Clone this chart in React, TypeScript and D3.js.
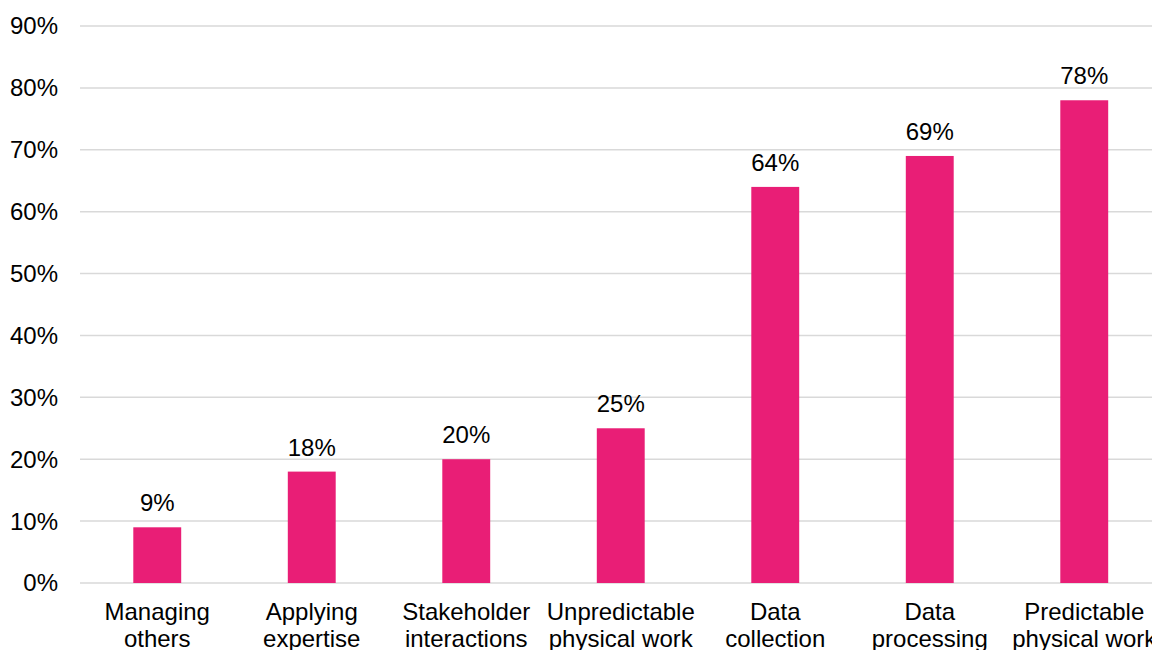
import React from "react";
import * as d3 from "d3";

const categories: string[][] = [
  ["Managing", "others"],
  ["Applying", "expertise"],
  ["Stakeholder", "interactions"],
  ["Unpredictable", "physical work"],
  ["Data", "collection"],
  ["Data", "processing"],
  ["Predictable", "physical work"],
];
const values: number[] = [9, 18, 20, 25, 64, 69, 78];
const yTicks: number[] = [0, 10, 20, 30, 40, 50, 60, 70, 80, 90];

const W = 1152;
const H = 650;
const left = 80;
const right = 1161.5;
const top = 26;
const bottom = 583;
const FONT = "'Liberation Sans', Arial, sans-serif";
const FS = 24;

export default function App() {
  const keys = categories.map((c) => c.join(" "));
  const x = d3.scaleBand<string>().domain(keys).range([left, right]).paddingInner(0.69).paddingOuter(0.345);
  const y = d3.scaleLinear().domain([0, 90]).range([bottom, top]);
  const bw = x.bandwidth();

  return (
    <svg
      width={W}
      height={H}
      style={{ position: "absolute", left: 0, top: 0, background: "#fff" }}
      fontFamily={FONT}
    >
      {yTicks.map((t) => (
        <g key={t}>
          <line x1={left} x2={right} y1={y(t)} y2={y(t)} stroke="#d9d9d9" strokeWidth={1.5} />
          <text x={58} y={y(t)} dy="0.35em" textAnchor="end" fontSize={FS} fill="#000">
            {t}%
          </text>
        </g>
      ))}
      {values.map((v, i) => {
        const k = keys[i];
        const x0 = x(k) as number;
        return (
          <g key={k}>
            <rect x={x0} y={y(v)} width={bw} height={y(0) - y(v)} fill="#E91E76" />
            <text x={x0 + bw / 2} y={y(v) - 16} textAnchor="middle" fontSize={FS} fill="#000">
              {v}%
            </text>
          </g>
        );
      })}
      {categories.map((lines, i) => {
        const cx = (x(keys[i]) as number) + bw / 2;
        return (
          <text key={keys[i]} x={cx} y={619.5} textAnchor="middle" fontSize={FS} fill="#000">
            {lines.map((l, j) => (
              <tspan key={j} x={cx} dy={j === 0 ? 0 : 27}>
                {l}
              </tspan>
            ))}
          </text>
        );
      })}
    </svg>
  );
}
